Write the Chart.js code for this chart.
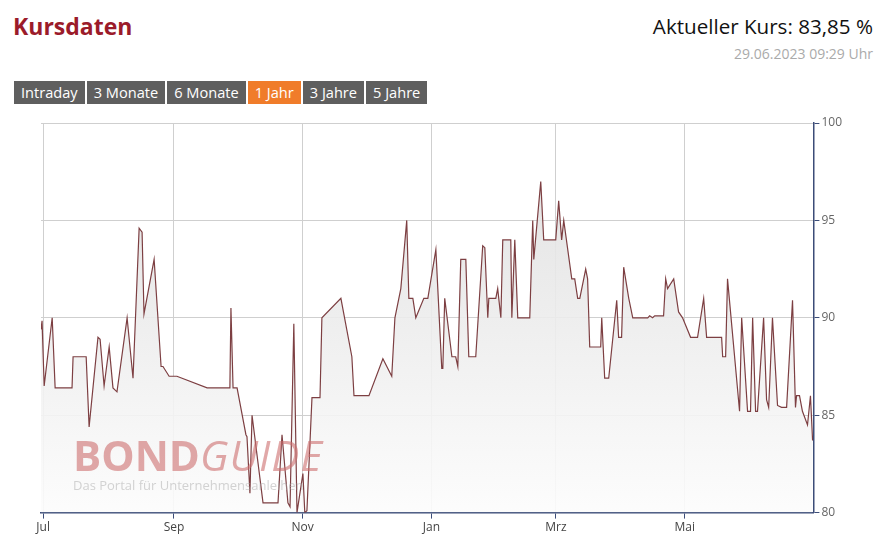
<!DOCTYPE html>
<html><head><meta charset="utf-8">
<script src="https://cdn.jsdelivr.net/npm/chart.js@4"></script>
<style>
body{margin:0;width:884px;height:544px;background:#fff;font-family:"Open Sans",sans-serif;position:relative;overflow:hidden}
#t{position:absolute;left:13px;top:10px;font-size:23px;font-weight:bold;color:#9b1b2a}
#k{position:absolute;right:11px;top:12px;font-size:20.6px;color:#111}
#d{position:absolute;right:11px;top:44px;font-size:14px;color:#aaa}
#b{position:absolute;left:14px;top:81px;display:flex;gap:2px}
#b span{background:#5f5f5f;color:#fff;font-size:14.6px;padding:0 7px;height:23px;line-height:23px}
#b span.a{background:#f07c2a}
#wm{position:absolute;left:73px;top:434px;pointer-events:none}
#wm .l{font-size:42px;line-height:42px;color:rgba(205,110,110,0.6)}
#wm .s{font-size:13px;color:rgba(170,170,170,0.5);margin-top:0px}
canvas{position:absolute;left:0;top:0}
</style></head><body>
<div id="t">Kursdaten</div>
<div id="k">Aktueller Kurs: 83,85 %</div>
<div id="d">29.06.2023 09:29 Uhr</div>
<div id="b"><span>Intraday</span><span>3 Monate</span><span>6 Monate</span><span class="a">1 Jahr</span><span>3 Jahre</span><span>5 Jahre</span></div>
<canvas id="c" width="884" height="544"></canvas>
<div id="wm"><div class="l"><b>BOND</b><i style="letter-spacing:1px">GUIDE</i></div><div class="s">Das Portal für Unternehmensanleihen</div></div>
<script>
// days since 2022-07-01
const days=[-1,-0.5,0.5,4.3,5.7,13.7,14.2,20.4,21.8,26,27,28.9,31.3,33.1,35,39.8,42.6,45.5,46.9,47.8,52.6,55.9,56.8,59.7,63.4,77.7,88.5,89,90,91.9,96.1,96.6,98,99,104.2,111.3,113.2,116,117,118.8,120.3,123.1,124,125,127.4,131.2,132.1,141.1,146.3,147.3,154.4,161,165.2,166.7,169.5,172.3,173.3,175.2,176.6,180.4,182.3,186.1,188.9,189.4,190.3,193.7,195.5,196.5,197.9,200.3,201.7,205,208.3,209.3,210.7,211.2,214.5,215.4,216.9,217.8,221.6,222.1,223.5,224.9,230.6,232,232.5,235.8,237.2,242.9,244.3,245.7,246.7,250.5,251.9,253.3,254.3,257.1,258,259,264.2,264.7,266.1,268,271.8,272.7,274.1,275.1,277.5,279.4,286.5,287.4,288.8,289.8,294,295,295.9,298.8,301.1,303,306.8,310.1,313,314.4,321.5,322,323.4,324.3,330,331,333.8,335.2,336.2,337.6,338.5,341.4,342.8,343.8,345.6,348,349.9,352.3,355.1,356.5,357,358.4,359.8,362.2,363.6,364.6];
const prices=[89.4,89.85,86.5,90,86.4,86.4,88,88,84.4,89,88.9,86.5,88.5,86.4,86.2,90,86.9,94.6,94.4,90.2,93,87.5,87.5,87,87,86.4,86.4,90.5,86.4,86.4,84,83.9,81,85,80.5,80.5,84,80.5,80.3,89.7,80,82,80,80.1,85.9,85.9,90,91,88,86,86,87.9,87,90,91.5,95,91,91,90,91,91,93.5,87.4,87.4,91,88,88,87.5,93,93,88,88,93.7,93.6,90,91,91,91.5,90,94,94,90,94,90,90,95,93,97,94,94,96,94,95,92,92,91,91,92.5,92,88.5,88.5,90,86.9,86.9,90.9,89,89,92.6,91,90,90,90.1,90,90.1,90.1,92,91.5,92,90.3,90,89,89,91,89,89,88,88,92,85.2,90,85.2,85.2,90,85.2,85.2,90,85.8,85.4,90,85.5,85.4,85.4,90.9,85.4,86,86,85.2,84.5,86,83.7];
const tickDays=[0,62,123,184,243,304];
const tickLabels=['Jul','Sep','Nov','Jan','Mrz','Mai'];
const yTicks=[80,85,90,95,100];
const ctx=document.getElementById('c').getContext('2d');
const grad=ctx.createLinearGradient(0,180,0,511);
grad.addColorStop(0,'rgba(225,225,225,0.9)');grad.addColorStop(1,'rgba(252,252,252,0.9)');
new Chart(ctx,{type:'line',
data:{datasets:[{data:days.map((d,i)=>({x:d,y:prices[i]})),borderColor:'#7d3f42',borderWidth:1.2,pointRadius:0,fill:'origin',backgroundColor:grad,tension:0}]},
options:{responsive:false,animation:false,events:[],
layout:{padding:{top:123,left:41,right:40,bottom:7}},
plugins:{legend:{display:false},tooltip:{enabled:false}},
scales:{
x:{type:'linear',min:-1,max:365,
afterBuildTicks:s=>{s.ticks=tickDays.map(v=>({value:v}));},
ticks:{callback:v=>tickLabels[tickDays.indexOf(v)],color:'#444',font:{family:'Open Sans',size:12},maxRotation:0,autoSkip:false,padding:2},
grid:{color:'#cfcfcf',tickColor:'#3c4d78',tickLength:6},border:{color:'#3c4d78',width:1.5}},
y:{position:'right',min:80,max:100,
afterBuildTicks:s=>{s.ticks=yTicks.map(v=>({value:v}));},
ticks:{color:'#666',font:{family:'Open Sans',size:12},padding:2},
grid:{color:'#cfcfcf',tickColor:'#3c4d78',tickLength:6},border:{color:'#3c4d78',width:1.5}},
}}});
</script></body></html>
